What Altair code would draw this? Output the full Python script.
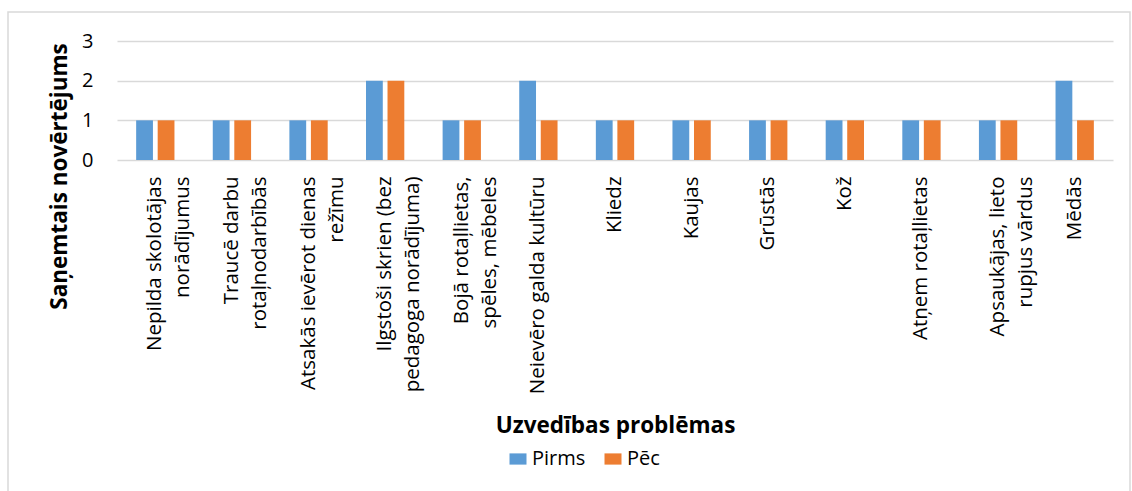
import altair as alt
import pandas as pd

# Behaviour problems (two-line labels are split on "|")
categories = [
    "Nepilda skolotājas|norādījumus",
    "Traucē darbu|rotaļnodarbībās",
    "Atsakās ievērot dienas|režīmu",
    "Ilgstoši skrien (bez|pedagoga norādījuma)",
    "Bojā rotaļlietas,|spēles, mēbeles",
    "Neievēro galda kultūru",
    "Kliedz",
    "Kaujas",
    "Grūstās",
    "Kož",
    "Atņem rotaļlietas",
    "Apsaukājas, lieto|rupjus vārdus",
    "Mēdās",
]
series_names = ["Pirms", "Pēc"]
pirms = [1, 1, 1, 2, 1, 2, 1, 1, 1, 1, 1, 1, 2]
pec = [1, 1, 1, 2, 1, 1, 1, 1, 1, 1, 1, 1, 1]
y_ticks = [0, 1, 2, 3]
colors = ["#5B9BD5", "#ED7D31"]

rows = []
for cat, a, b in zip(categories, pirms, pec):
    rows.append({"problema": cat, "periods": series_names[0], "vertejums": a})
    rows.append({"problema": cat, "periods": series_names[1], "vertejums": b})
df = pd.DataFrame(rows)

FONT = "Open Sans"
GRID = "#D9D9D9"

bars = alt.Chart(df).mark_bar().encode(
    x=alt.X(
        "problema:N",
        sort=categories,
        scale=alt.Scale(paddingInner=0.5, paddingOuter=0.25),
        axis=alt.Axis(
            title="Uzvedības problēmas",
            labelExpr="split(datum.label, '|')",
            labelAngle=-90,
            labelAlign="right",
            labelBaseline="middle",
            labelPadding=16,
            labelFontSize=20.5,
            labelLineHeight=28,
            labelColor="#000000",
            labelFont=FONT,
            labelLimit=400,
            ticks=False,
            domain=False,
            titleFont=FONT,
            titleFontSize=22.5,
            titleFontWeight="bold",
            titleColor="#000000",
            titleX=498,
            titleY=272,
            titleBaseline="alphabetic",
        ),
    ),
    xOffset=alt.XOffset(
        "periods:N",
        sort=series_names,
        scale=alt.Scale(paddingInner=0.22, paddingOuter=0),
    ),
    y=alt.Y(
        "vertejums:Q",
        scale=alt.Scale(domain=[0, 3], nice=False),
        axis=alt.Axis(
            title="Saņemtais novērtējums",
            values=y_ticks,
            format="d",
            ticks=False,
            domain=False,
            grid=True,
            gridColor=GRID,
            gridWidth=1.5,
            labelPadding=24,
            labelFontSize=20,
            labelColor="#000000",
            labelFont=FONT,
            titleFont=FONT,
            titleFontSize=22.5,
            titleFontWeight="bold",
            titleColor="#000000",
            titleX=-51,
            titleY=135,
            titleAlign="center",
            titleBaseline="alphabetic",
        ),
    ),
    color=alt.Color(
        "periods:N",
        sort=series_names,
        scale=alt.Scale(domain=series_names, range=colors),
        legend=alt.Legend(
            title=None,
            orient="none",
            direction="horizontal",
            legendX=391,
            legendY=408,
            padding=0,
            symbolType="M-1,-0.66H1V0.66H-1Z",
            symbolSize=289,
            symbolStrokeWidth=0,
            labelFont=FONT,
            labelFontSize=20,
            labelColor="#000000",
            labelOffset=4,
            columnPadding=17,
        ),
    ),
)

# light frame around the whole chart
frame = alt.Chart(pd.DataFrame({"k": [0]})).mark_rect(
    fill=None, stroke=GRID, strokeWidth=1.5, clip=False
).encode(
    x=alt.value(-109), x2=alt.value(1013), y=alt.value(-29), y2=alt.value(470)
)

chart = alt.layer(frame, bars).properties(
    width=996,
    height=119,
    autosize=alt.AutoSizeParams(type="none"),
    padding={"left": 117, "top": 41, "right": 19, "bottom": 331},
    background="#FFFFFF",
).configure_view(stroke=None)

chart.save("out.html", embed_options={"renderer": "svg", "actions": False})
